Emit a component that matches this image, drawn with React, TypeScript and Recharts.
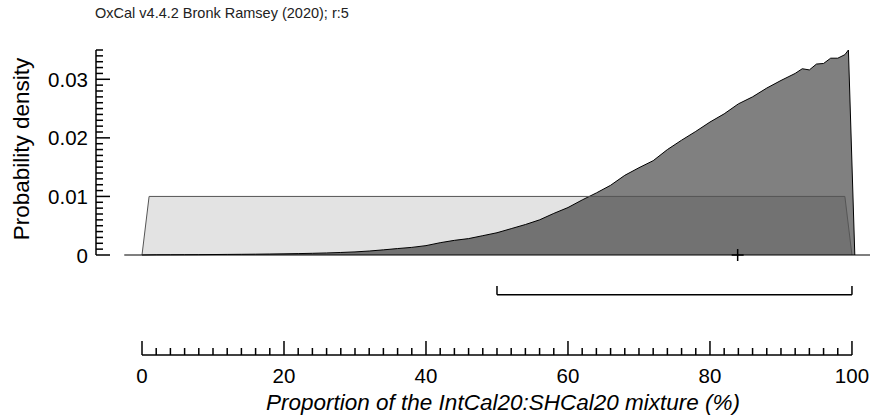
import React from "react";
import {
  Area,
  ComposedChart,
  ReferenceLine,
  Scatter,
  XAxis,
  YAxis,
} from "recharts";

const FONT = "'Liberation Sans', Arial, sans-serif";

// prior: uniform 0–100
const priorX = [0, 1, 99, 100];
const priorY = [0, 0.01, 0.01, 0];

// posterior density
const postX = [
  0, 2, 4, 6, 8, 10, 12, 14, 16, 18, 20, 22, 24, 26, 28, 30, 32, 34, 36, 38,
  40, 42, 44, 46, 48, 50, 52, 54, 56, 58, 60, 62, 64, 66, 68, 70, 72, 74, 76,
  78, 80, 82, 84, 86, 88, 90, 91, 92, 93, 94, 95, 96, 97, 98, 99, 99.5, 100.4,
];
const postY = [
  0, 0.00003, 0.00004, 0.00005, 0.00006, 0.00008, 0.0001, 0.00012, 0.00014,
  0.00017, 0.0002, 0.00024, 0.00029, 0.00035, 0.00043, 0.00053, 0.00068,
  0.00088, 0.0011, 0.0013, 0.0016, 0.0021, 0.0025, 0.0028, 0.0033, 0.0038,
  0.0045, 0.0052, 0.006, 0.0071, 0.0081, 0.0094, 0.0106, 0.0119, 0.0136,
  0.0149, 0.0161, 0.018, 0.0196, 0.0211, 0.0227, 0.0241, 0.0258, 0.027,
  0.0285, 0.0298, 0.0304, 0.031, 0.0318, 0.0316, 0.0326, 0.0327, 0.0336,
  0.0336, 0.0342, 0.035, 0,
];

// 95.4% range and mean
const rangeFrom = [50];
const rangeTo = [100];
const meanX = [83.9];

const xTickLabels = ["0", "20", "40", "60", "80", "100"];
const yTickLabels = ["0", "0.01", "0.02", "0.03"];
const xTicks = Array.from({ length: 51 }, (_, i) => i * 2);
const yTicks = Array.from({ length: 36 }, (_, i) => i / 1000);

const X_DOMAIN: [number, number] = [-6.48, 102.54];
const Y_DOMAIN: [number, number] = [-0.017073, 0.035];
const BRACKET_Y = -0.0068;
const BRACKET_TOP = -0.0053;

type Row = { x: number; prior?: number; post?: number };

const buildRows = (): Row[] => {
  const map = new Map<number, Row>();
  priorX.forEach((x, i) => {
    map.set(x, { ...(map.get(x) ?? { x }), prior: priorY[i] });
  });
  postX.forEach((x, i) => {
    map.set(x, { ...(map.get(x) ?? { x }), post: postY[i] });
  });
  return [...map.values()].sort((a, b) => a.x - b.x);
};

function YTick({ x, y, payload }: any) {
  const k = Math.round(payload.value * 1000);
  const major = k % 10 === 0;
  return (
    <g>
      <line x1={x} x2={x + (major ? 14 : 7)} y1={y} y2={y} stroke="#000" strokeWidth={1.5} />
      {major && (
        <text x={x - 8} y={y} textAnchor="end" dominantBaseline="central" fontSize={20.5} fontFamily={FONT} fill="#000">
          {yTickLabels[k / 10]}
        </text>
      )}
    </g>
  );
}

function XTick({ x, y, payload }: any) {
  const v = Math.round(payload.value);
  const major = v % 20 === 0;
  return (
    <g>
      <line x1={x} x2={x} y1={y} y2={y - (major ? 14 : 7)} stroke="#000" strokeWidth={1.5} />
      {major && (
        <text x={x} y={y + 28} textAnchor="middle" fontSize={20.5} fontFamily={FONT} fill="#000">
          {xTickLabels[v / 20]}
        </text>
      )}
    </g>
  );
}

function Cross({ cx, cy }: any) {
  return (
    <g stroke="#000" strokeWidth={1.5}>
      <line x1={cx - 6} x2={cx + 6} y1={cy} y2={cy} />
      <line x1={cx} x2={cx} y1={cy - 6} y2={cy + 6} />
    </g>
  );
}

export default function App() {
  const rows = buildRows();
  return (
    <div style={{ position: "relative", width: 872, height: 416, background: "#fff" }}>
      <style>{`body{margin:0}`}</style>
      <div
        style={{
          position: "absolute",
          left: 95,
          top: 5,
          fontFamily: FONT,
          fontSize: 14.5,
          lineHeight: 1.15,
          color: "#222",
          whiteSpace: "nowrap",
        }}
      >
        OxCal v4.4.2 Bronk Ramsey (2020); r:5
      </div>
      <ComposedChart
        width={872}
        height={416}
        data={rows}
        margin={{ top: 50, right: 2, bottom: 1, left: 36 }}
      >
        <XAxis
          dataKey="x"
          type="number"
          domain={X_DOMAIN}
          allowDataOverflow
          ticks={xTicks}
          interval={0}
          axisLine={false}
          tickLine={false}
          tickSize={0}
          tickMargin={0}
          height={60}
          tick={<XTick />}
          label={{
            content: () => (
              <text x={503} y={410} textAnchor="middle" fontSize={22.5} fontStyle="italic" fontFamily={FONT} fill="#000">
                Proportion of the IntCal20:SHCal20 mixture (%)
              </text>
            ),
          }}
        />
        <YAxis
          type="number"
          domain={Y_DOMAIN}
          allowDataOverflow
          ticks={yTicks}
          interval={0}
          axisLine={false}
          tickLine={false}
          tickSize={0}
          tickMargin={0}
          width={60}
          tick={<YTick />}
          label={{
            content: () => (
              <text x={21} y={149} transform="rotate(-90 21 149)" textAnchor="middle" dominantBaseline="central" fontSize={22.5} fontFamily={FONT} fill="#000">
                Probability density
              </text>
            ),
          }}
        />
        <Area
          type="linear"
          dataKey="post"
          connectNulls
          baseValue={0}
          fill="#808080"
          fillOpacity={1}
          stroke="#000"
          strokeWidth={1}
          dot={false}
          activeDot={false}
          isAnimationActive={false}
        />
        <Area
          type="linear"
          dataKey="prior"
          connectNulls
          baseValue={0}
          fill="#000"
          fillOpacity={0.11}
          stroke="#555"
          strokeWidth={1}
          dot={false}
          activeDot={false}
          isAnimationActive={false}
        />
        {/* zero line of the plot */}
        <ReferenceLine
          segment={[{ x: -2.5, y: 0 }, { x: X_DOMAIN[1], y: 0 }]}
          stroke="#000"
          strokeWidth={1.2}
          ifOverflow="visible"
        />
        {/* y axis line */}
        <ReferenceLine
          segment={[{ x: X_DOMAIN[0], y: 0 }, { x: X_DOMAIN[0], y: Y_DOMAIN[1] }]}
          stroke="#000"
          strokeWidth={1.5}
          ifOverflow="visible"
        />
        {/* x axis line */}
        <ReferenceLine
          segment={[{ x: xTicks[0], y: Y_DOMAIN[0] }, { x: xTicks[xTicks.length - 1], y: Y_DOMAIN[0] }]}
          stroke="#000"
          strokeWidth={1.5}
          ifOverflow="visible"
        />
        {/* 95.4% range bracket */}
        <ReferenceLine
          segment={[{ x: rangeFrom[0], y: BRACKET_Y }, { x: rangeTo[0], y: BRACKET_Y }]}
          stroke="#000"
          strokeWidth={1.5}
          ifOverflow="visible"
        />
        <ReferenceLine
          segment={[{ x: rangeFrom[0], y: BRACKET_Y }, { x: rangeFrom[0], y: BRACKET_TOP }]}
          stroke="#000"
          strokeWidth={1.5}
          ifOverflow="visible"
        />
        <ReferenceLine
          segment={[{ x: rangeTo[0], y: BRACKET_Y }, { x: rangeTo[0], y: BRACKET_TOP }]}
          stroke="#000"
          strokeWidth={1.5}
          ifOverflow="visible"
        />
        <Scatter
          data={meanX.map((x) => ({ x, y: 0 }))}
          dataKey="y"
          shape={<Cross />}
          isAnimationActive={false}
        />
      </ComposedChart>
    </div>
  );
}
